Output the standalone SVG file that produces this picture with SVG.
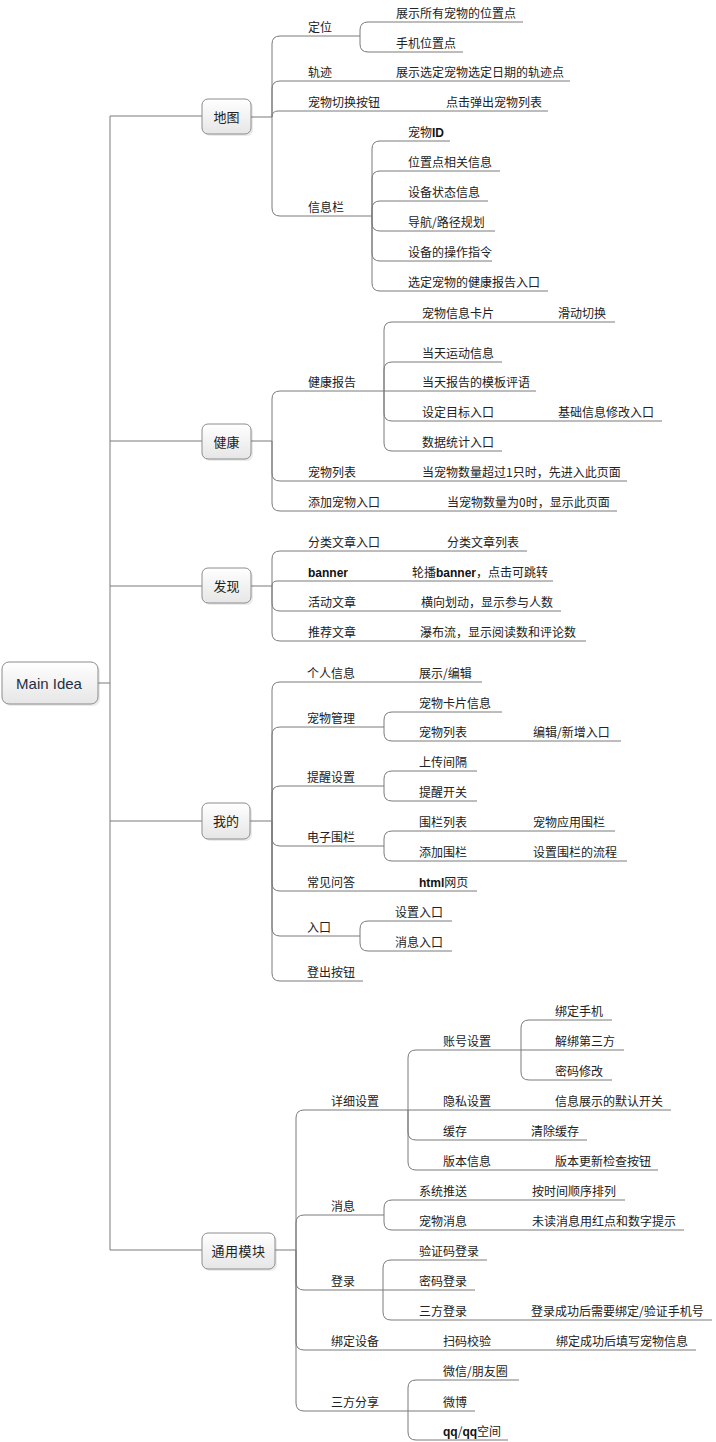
<svg xmlns="http://www.w3.org/2000/svg" width="716" height="1442" viewBox="0 0 716 1442">
<style>
.t{font-family:"Noto Sans CJK SC","Noto Sans CJK JP",sans-serif;font-size:12px;fill:#222}
.b{font-family:"Liberation Sans",sans-serif;font-weight:bold;fill:#111}
.l1{font-family:"Noto Sans CJK SC",sans-serif;font-size:13px;fill:#222;text-anchor:middle}
.box{fill:url(#g);stroke:#8c8c8c;stroke-width:1}
.sh{fill:#000;opacity:0.08}
.c path{fill:none;stroke:#7a7a7a;stroke-width:1}
</style>
<defs>
<linearGradient id="g" x1="0" y1="0" x2="0" y2="1">
<stop offset="0" stop-color="#ffffff"/>
<stop offset="1" stop-color="#e6e6e6"/>
</linearGradient>
</defs>
<rect width="716" height="1442" fill="#ffffff"/>
<g class="c" id="connectors">
<path d="M98,683H110M110,116V1250M110,116H202M110,441H202M110,586H202M110,821H202M110,1250H202"/>
<!-- 地图 -->
<path d="M251,117H272M272,117V44Q272,36 280,36H360M272,117V89Q272,81 280,81H570M272,117Q272,111 278,111H548M272,117V208Q272,216 280,216H372"/>
<path d="M360,36V30Q360,22 368,22H523M360,36V44Q360,52 368,52H463"/>
<path d="M372,216V149Q372,141 380,141H450M372,216V179Q372,171 380,171H500M372,216V209Q372,201 380,201H488M372,216V223Q372,231 380,231H495M372,216V253Q372,261 380,261H492M372,216V283Q372,291 380,291H548"/>
<!-- 健康 -->
<path d="M251,441H272M272,441V399Q272,391 280,391H384M272,441V473Q272,481 280,481H627M272,441V503Q272,511 280,511H617"/>
<path d="M384,391V330Q384,322 392,322H615M384,391V370Q384,362 392,362H502M384,391H536M384,391V413Q384,421 392,421H662M384,391V443Q384,451 392,451H502"/>
<!-- 发现 -->
<path d="M251,586H272M272,586V559Q272,551 280,551H527M272,586Q272,581 277,581H553M272,586V603Q272,611 280,611H561M272,586V633Q272,641 280,641H586"/>
<!-- 我的 -->
<path d="M250,821H272M272,821V690Q272,682 280,682H482M272,821V735Q272,727 280,727H384M272,821V794Q272,786 280,786H384M272,821V838Q272,846 280,846H384M272,821V883Q272,891 280,891H477M272,821V928Q272,936 280,936H360M272,821V973Q272,981 280,981H363"/>
<path d="M384,727V720Q384,712 392,712H502M384,727V733Q384,741 392,741H621"/>
<path d="M384,786V779Q384,771 392,771H477M384,786V793Q384,801 392,801H477"/>
<path d="M384,846V839Q384,831 392,831H615M384,846V853Q384,861 392,861H627"/>
<path d="M360,936V929Q360,921 368,921H452M360,936V943Q360,951 368,951H452"/>
<!-- 通用模块 -->
<path d="M275,1250H296M296,1250V1118Q296,1110 304,1110H671M296,1250V1223Q296,1215 304,1215H384M296,1250V1282Q296,1290 304,1290H475M296,1250V1342Q296,1350 304,1350H696M296,1250V1403Q296,1411 304,1411H475"/>
<path d="M408,1110V1058Q408,1050 416,1050H624M408,1110V1132Q408,1140 416,1140H587M408,1110V1162Q408,1170 416,1170H658"/>
<path d="M521,1050V1028Q521,1020 529,1020H612M521,1050V1072Q521,1080 529,1080H612"/>
<path d="M384,1215V1208Q384,1200 392,1200H625M384,1215V1222Q384,1230 392,1230H684"/>
<path d="M383,1290V1268Q383,1260 391,1260H487M383,1290V1312Q383,1320 391,1320H712"/>
<path d="M408,1411V1388Q408,1380 416,1380H519M408,1411V1432Q408,1440 416,1440H508"/>
</g>

<g id="main-idea">
<rect class="sh" x="4" y="664" width="96" height="42" rx="7"/>
<rect class="box" x="2" y="662" width="96" height="42" rx="7"/>
<text x="49" y="688.5" font-family="Liberation Sans,sans-serif" font-size="15" fill="#1f2f45" text-anchor="middle">Main Idea</text>
</g>

<g id="n-ditu">
<rect class="sh" x="204" y="101" width="49" height="35" rx="6"/>
<rect class="box" x="202" y="99" width="49" height="35" rx="6"/>
<text class="l1" x="226.5" y="121.5">地图</text>
</g>
<g id="n-dingwei"><text class="t" x="308" y="32">定位</text></g>
<g id="n-dingwei-1"><text class="t" x="396" y="18">展示所有宠物的位置点</text></g>
<g id="n-dingwei-2"><text class="t" x="396" y="48">手机位置点</text></g>
<g id="n-guiji"><text class="t" x="308" y="77">轨迹</text></g>
<g id="n-guiji-1"><text class="t" x="396" y="77">展示选定宠物选定日期的轨迹点</text></g>
<g id="n-qiehuan"><text class="t" x="308" y="107">宠物切换按钮</text></g>
<g id="n-qiehuan-1"><text class="t" x="446" y="107">点击弹出宠物列表</text></g>
<g id="n-xinxilan"><text class="t" x="308" y="212">信息栏</text></g>
<g id="n-xxl-1"><text class="t" x="408" y="137">宠物<tspan class="b">ID</tspan></text></g>
<g id="n-xxl-2"><text class="t" x="408" y="167">位置点相关信息</text></g>
<g id="n-xxl-3"><text class="t" x="408" y="197">设备状态信息</text></g>
<g id="n-xxl-4"><text class="t" x="408" y="227">导航/路径规划</text></g>
<g id="n-xxl-5"><text class="t" x="408" y="257">设备的操作指令</text></g>
<g id="n-xxl-6"><text class="t" x="408" y="287">选定宠物的健康报告入口</text></g>

<g id="n-jiankang">
<rect class="sh" x="204" y="426" width="49" height="35" rx="6"/>
<rect class="box" x="202" y="424" width="49" height="35" rx="6"/>
<text class="l1" x="226.5" y="446.5">健康</text>
</g>
<g id="n-jkbg"><text class="t" x="308" y="387">健康报告</text></g>
<g id="n-jkbg-1"><text class="t" x="422" y="318">宠物信息卡片</text></g>
<g id="n-jkbg-1a"><text class="t" x="558" y="318">滑动切换</text></g>
<g id="n-jkbg-2"><text class="t" x="422" y="358">当天运动信息</text></g>
<g id="n-jkbg-3"><text class="t" x="422" y="387">当天报告的模板评语</text></g>
<g id="n-jkbg-4"><text class="t" x="422" y="417">设定目标入口</text></g>
<g id="n-jkbg-4a"><text class="t" x="558" y="417">基础信息修改入口</text></g>
<g id="n-jkbg-5"><text class="t" x="422" y="447">数据统计入口</text></g>
<g id="n-cwlb"><text class="t" x="308" y="477">宠物列表</text></g>
<g id="n-cwlb-1"><text class="t" x="422" y="477">当宠物数量超过1只时，先进入此页面</text></g>
<g id="n-tjcw"><text class="t" x="308" y="507">添加宠物入口</text></g>
<g id="n-tjcw-1"><text class="t" x="447" y="507">当宠物数量为0时，显示此页面</text></g>

<g id="n-faxian">
<rect class="sh" x="204" y="570" width="49" height="35" rx="6"/>
<rect class="box" x="202" y="568" width="49" height="35" rx="6"/>
<text class="l1" x="226.5" y="590.5">发现</text>
</g>
<g id="n-flwz"><text class="t" x="308" y="547">分类文章入口</text></g>
<g id="n-flwz-1"><text class="t" x="447" y="547">分类文章列表</text></g>
<g id="n-banner"><text class="t" x="308" y="577"><tspan class="b">banner</tspan></text></g>
<g id="n-banner-1"><text class="t" x="412" y="577">轮播<tspan class="b">banner</tspan>，点击可跳转</text></g>
<g id="n-hdwz"><text class="t" x="308" y="607">活动文章</text></g>
<g id="n-hdwz-1"><text class="t" x="421" y="607">横向划动，显示参与人数</text></g>
<g id="n-tjwz"><text class="t" x="308" y="637">推荐文章</text></g>
<g id="n-tjwz-1"><text class="t" x="420" y="637">瀑布流，显示阅读数和评论数</text></g>

<g id="n-wode">
<rect class="sh" x="204" y="805" width="48" height="36" rx="6"/>
<rect class="box" x="202" y="803" width="48" height="36" rx="6"/>
<text class="l1" x="226" y="826">我的</text>
</g>
<g id="n-grxx"><text class="t" x="307" y="678">个人信息</text></g>
<g id="n-grxx-1"><text class="t" x="419" y="678">展示/编辑</text></g>
<g id="n-cwgl"><text class="t" x="307" y="723">宠物管理</text></g>
<g id="n-cwgl-1"><text class="t" x="419" y="708">宠物卡片信息</text></g>
<g id="n-cwgl-2"><text class="t" x="419" y="737">宠物列表</text></g>
<g id="n-cwgl-2a"><text class="t" x="533" y="737">编辑/新增入口</text></g>
<g id="n-txsz"><text class="t" x="307" y="782">提醒设置</text></g>
<g id="n-txsz-1"><text class="t" x="419" y="767">上传间隔</text></g>
<g id="n-txsz-2"><text class="t" x="419" y="797">提醒开关</text></g>
<g id="n-dzwl"><text class="t" x="307" y="842">电子围栏</text></g>
<g id="n-dzwl-1"><text class="t" x="419" y="827">围栏列表</text></g>
<g id="n-dzwl-1a"><text class="t" x="533" y="827">宠物应用围栏</text></g>
<g id="n-dzwl-2"><text class="t" x="419" y="857">添加围栏</text></g>
<g id="n-dzwl-2a"><text class="t" x="533" y="857">设置围栏的流程</text></g>
<g id="n-cjwd"><text class="t" x="307" y="887">常见问答</text></g>
<g id="n-cjwd-1"><text class="t" x="419" y="887"><tspan class="b">html</tspan>网页</text></g>
<g id="n-rukou"><text class="t" x="307" y="932">入口</text></g>
<g id="n-rukou-1"><text class="t" x="395" y="917">设置入口</text></g>
<g id="n-rukou-2"><text class="t" x="395" y="947">消息入口</text></g>
<g id="n-dcan"><text class="t" x="307" y="977">登出按钮</text></g>

<g id="n-tymk">
<rect class="sh" x="204" y="1235" width="73" height="36" rx="6"/>
<rect class="box" x="202" y="1233" width="73" height="36" rx="6"/>
<text class="l1" x="238.5" y="1256" letter-spacing="0.5">通用模块</text>
</g>
<g id="n-xxsz"><text class="t" x="331" y="1106">详细设置</text></g>
<g id="n-zhsz"><text class="t" x="443" y="1046">账号设置</text></g>
<g id="n-zhsz-1"><text class="t" x="555" y="1016">绑定手机</text></g>
<g id="n-zhsz-2"><text class="t" x="555" y="1046">解绑第三方</text></g>
<g id="n-zhsz-3"><text class="t" x="555" y="1076">密码修改</text></g>
<g id="n-yssz"><text class="t" x="443" y="1106">隐私设置</text></g>
<g id="n-yssz-1"><text class="t" x="555" y="1106">信息展示的默认开关</text></g>
<g id="n-huancun"><text class="t" x="443" y="1136">缓存</text></g>
<g id="n-huancun-1"><text class="t" x="531" y="1136">清除缓存</text></g>
<g id="n-bbxx"><text class="t" x="443" y="1166">版本信息</text></g>
<g id="n-bbxx-1"><text class="t" x="555" y="1166">版本更新检查按钮</text></g>
<g id="n-xiaoxi"><text class="t" x="331" y="1211">消息</text></g>
<g id="n-xtts"><text class="t" x="419" y="1196">系统推送</text></g>
<g id="n-xtts-1"><text class="t" x="532" y="1196">按时间顺序排列</text></g>
<g id="n-cwxx"><text class="t" x="419" y="1226">宠物消息</text></g>
<g id="n-cwxx-1"><text class="t" x="532" y="1226">未读消息用红点和数字提示</text></g>
<g id="n-denglu"><text class="t" x="331" y="1286">登录</text></g>
<g id="n-denglu-1"><text class="t" x="419" y="1256">验证码登录</text></g>
<g id="n-denglu-2"><text class="t" x="419" y="1286">密码登录</text></g>
<g id="n-denglu-3"><text class="t" x="419" y="1316">三方登录</text></g>
<g id="n-denglu-3a"><text class="t" x="531" y="1316">登录成功后需要绑定/验证手机号</text></g>
<g id="n-bdsb"><text class="t" x="331" y="1346">绑定设备</text></g>
<g id="n-bdsb-1"><text class="t" x="443" y="1346">扫码校验</text></g>
<g id="n-bdsb-2"><text class="t" x="556" y="1346">绑定成功后填写宠物信息</text></g>
<g id="n-sffx"><text class="t" x="331" y="1407">三方分享</text></g>
<g id="n-sffx-1"><text class="t" x="443" y="1376">微信/朋友圈</text></g>
<g id="n-sffx-2"><text class="t" x="443" y="1407">微博</text></g>
<g id="n-sffx-3"><text class="t" x="443" y="1436"><tspan class="b">qq</tspan>/<tspan class="b">qq</tspan>空间</text></g>
</svg>
